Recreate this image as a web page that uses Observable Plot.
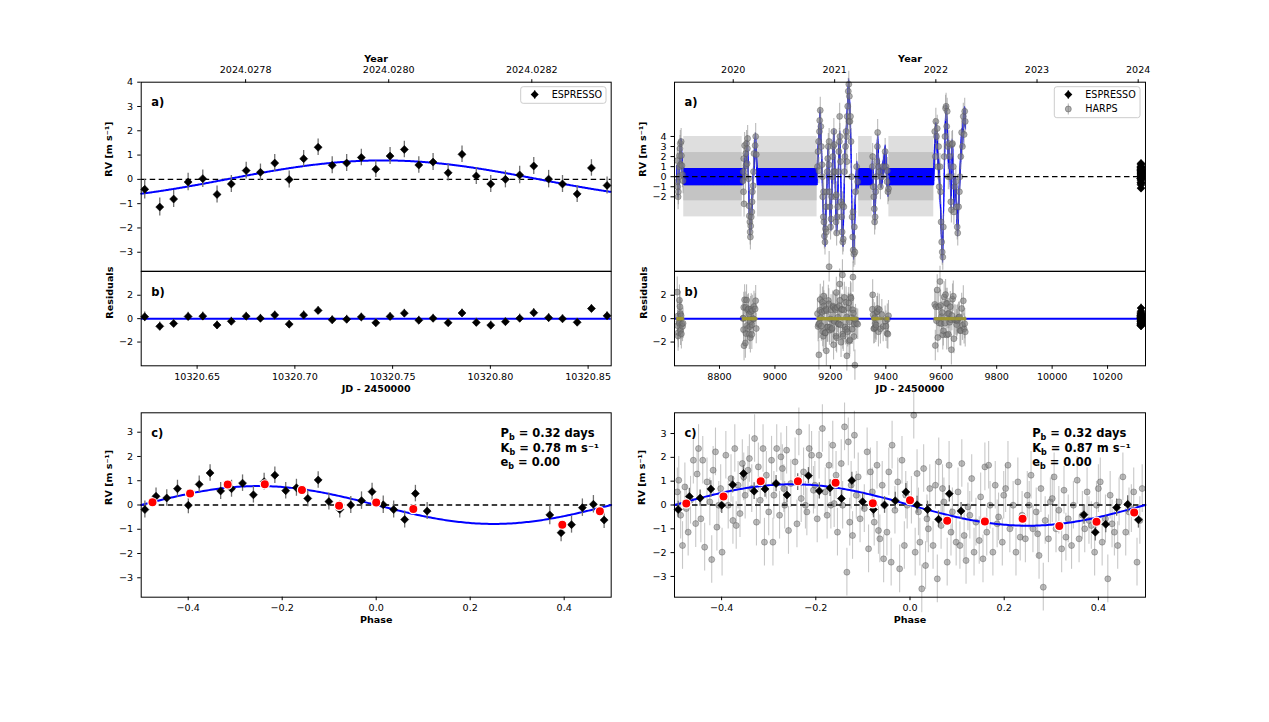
<!DOCTYPE html>
<html>
<head>
<meta charset="utf-8">
<script src="https://cdn.jsdelivr.net/npm/d3@7"></script>
<script src="https://cdn.jsdelivr.net/npm/@observablehq/plot@0.6"></script>
<style>
  html, body { margin: 0; padding: 0; background: #fff; }
  #fig { position: relative; width: 1269px; height: 722px; overflow: hidden; font-family: "DejaVu Sans", sans-serif; }
  #fig svg { position: absolute; overflow: visible; }
</style>
</head>
<body>
<div id="fig"></div>
<script>
// ---------------- ESPRESSO single-night run (JD - 2450000) ----------------
const espTime = [10320.6232, 10320.6309, 10320.6380, 10320.6454, 10320.6529, 10320.6602, 10320.6675,
  10320.6751, 10320.6824, 10320.6897, 10320.6971, 10320.7045, 10320.7119, 10320.7191, 10320.7265,
  10320.7340, 10320.7414, 10320.7487, 10320.7560, 10320.7634, 10320.7707, 10320.7784, 10320.7855,
  10320.7928, 10320.8002, 10320.8077, 10320.8150, 10320.8222, 10320.8298, 10320.8369, 10320.8444,
  10320.8517, 10320.8597];
const espRV = [-0.41, -1.14, -0.81, -0.11, 0.03, -0.62, -0.19, 0.36, 0.29, 0.67, -0.01, 0.85, 1.32,
  0.58, 0.67, 0.90, 0.42, 0.96, 1.23, 0.59, 0.71, 0.27, 1.03, 0.14, -0.19, 0.00, 0.18, 0.55, 0.01,
  -0.19, -0.60, 0.47, -0.25];
const espErr = [0.40, 0.37, 0.35, 0.36, 0.36, 0.35, 0.35, 0.34, 0.34, 0.35, 0.35, 0.34, 0.34, 0.35,
  0.35, 0.34, 0.34, 0.35, 0.34, 0.34, 0.35, 0.34, 0.34, 0.35, 0.35, 0.35, 0.36, 0.35, 0.36, 0.35,
  0.35, 0.34, 0.35];

// ---------------- HARPS seasons: [JD - 2450000, RV m/s] ----------------
const harpsObs = [
  [8647.6, 1.6], [8648.7, -0.5], [8649.6, -1.0], [8650.7, -2.0], [8651.6, -1.5], [8653.6, 0.0],
  [8654.5, 1.0], [8655.6, 2.1], [8657.5, 2.8], [8658.6, 3.3], [8659.5, 1.2], [8661.6, 3.5],
  [8662.5, 2.1], [8664.5, 1.1], [8666.6, 0.2], [8668.5, -0.4],
  [8884.8, -0.4], [8885.6, 0.5], [8886.7, -1.5], [8887.5, 1.8], [8888.6, -2.7], [8890.6, 3.1],
  [8893.5, 0.0], [8894.6, 2.3], [8895.5, 1.1], [8897.6, 3.3], [8899.5, 1.3], [8900.6, 2.8],
  [8901.5, 3.8], [8904.6, -0.2], [8906.5, -2.9], [8907.6, -3.9], [8909.5, -4.5], [8910.6, -5.5],
  [8911.5, -6.0], [8912.6, -4.9], [8914.5, -4.0], [8916.6, -3.5], [8917.5, -2.5], [8918.6, -1.5],
  [8921.5, -0.9], [8922.6, 0.5], [8924.5, 2.3], [8928.6, 3.1], [8930.5, 4.0], [8932.6, 2.2],
  [9153.5, 1.0], [9155.6, 2.5], [9157.5, 3.5], [9158.6, 0.6], [9160.5, 4.5], [9161.6, 5.6],
  [9163.5, 6.6], [9165.6, 5.0], [9167.5, 3.0], [9169.6, 1.2], [9171.5, 0.0], [9172.6, -2.0],
  [9174.5, -4.0], [9175.5, -1.5], [9176.6, -4.5], [9178.5, -5.9], [9180.6, -6.5], [9182.5, -5.2],
  [9184.6, -3.0], [9185.5, -5.5], [9186.5, -1.5], [9188.6, 0.5], [9190.5, 1.8], [9192.6, 3.0],
  [9194.5, 1.2], [9195.5, 3.5], [9196.6, -1.5], [9198.5, -3.0], [9200.6, -5.0], [9202.5, -4.2],
  [9204.6, -2.0], [9206.5, 0.0], [9208.6, 2.0], [9210.5, 3.0], [9211.5, 0.5], [9212.6, 4.5],
  [9214.5, 3.2], [9216.6, 0.5], [9218.5, -2.0], [9220.6, -4.5], [9221.5, -1.8], [9222.5, -5.6],
  [9224.6, -4.0], [9226.5, -3.0], [9228.6, 0.5], [9230.5, 2.5], [9232.6, 3.5], [9233.5, 6.0],
  [9234.5, 4.0], [9236.6, 1.5], [9238.5, -2.5], [9240.6, -4.0], [9242.5, -5.5], [9243.5, -2.8],
  [9244.6, -6.5], [9246.5, -6.2], [9248.6, -3.0], [9250.5, 0.5], [9252.6, 2.0], [9254.5, 3.0],
  [9256.6, 4.5], [9258.5, 4.0], [9259.5, 1.5], [9260.6, 6.0], [9262.5, 7.0], [9264.6, 8.5],
  [9266.5, 9.2], [9267.5, 5.5], [9268.6, 8.0], [9270.5, 5.5], [9272.6, 6.0], [9274.5, 3.5],
  [9276.6, 0.0], [9278.5, -4.0], [9280.6, -6.0], [9281.5, -3.5], [9282.5, -7.3], [9284.6, -7.7],
  [9286.5, -5.0], [9288.5, -7.5], [9290.6, -1.5], [9294.5, 1.0], [9298.6, -0.5],
  [9351.6, 1.0], [9352.6, 2.0], [9354.5, -1.0], [9356.6, -2.0], [9358.5, -3.2], [9359.6, -4.5],
  [9361.5, -4.0], [9363.6, -1.5], [9365.5, 0.0], [9367.6, 1.5], [9369.5, 3.0], [9370.6, 4.4],
  [9373.5, 1.0], [9376.6, 0.5], [9380.5, -1.0], [9385.6, 0.0], [9390.5, 1.0], [9397.6, 2.5],
  [9400.5, 1.0], [9404.6, -0.5], [9405.5, 0.6], [9407.5, -1.5], [9409.6, -1.2],
  [9576.5, 4.5], [9578.6, 2.0], [9580.5, 5.5], [9582.6, 4.0], [9585.5, 4.8], [9587.6, 1.0],
  [9590.5, 3.0], [9592.6, -1.0], [9595.5, 1.0], [9597.6, -1.5], [9599.5, -4.5], [9601.6, -6.5],
  [9603.5, -7.5], [9605.6, -8.0], [9607.5, -5.0], [9610.6, 2.0], [9613.5, 4.0], [9615.6, 6.8],
  [9617.5, 7.0], [9619.6, 5.0], [9621.5, 6.5], [9623.6, 3.0], [9625.5, 0.0], [9627.6, 3.3],
  [9630.5, 2.0], [9632.6, 0.0], [9634.5, -2.5], [9636.6, -3.3], [9638.5, 3.2], [9640.6, 3.3],
  [9643.5, 1.0], [9645.6, -3.5], [9648.5, -1.0], [9652.6, -0.5], [9655.5, -3.0], [9657.6, -5.0],
  [9659.5, -5.6], [9662.6, -3.0], [9665.5, -1.5], [9667.6, 0.0], [9670.5, 2.0], [9673.6, 4.4],
  [9676.5, 3.0], [9679.6, 6.0], [9682.5, 4.2], [9684.6, 6.5], [9686.5, 5.5]
];
const harpsErr = 1.3;

// stellar-activity (GP) mean curve nodes through the HARPS seasons
const activityNodes = [
  [8645, 0], [8647, 0.4], [8649, -0.6], [8651, -1.3], [8653, -0.6], [8655, 0.9], [8657, 2.2],
  [8660, 3.0], [8662, 2.8], [8665, 1.2], [8668, 0.1], [8671, 0],
  [8882, 0], [8885, 0.0], [8888, 0.2], [8891, 1.4], [8895, 1.6], [8898, 2.2], [8901, 2.9],
  [8904, 0.5], [8907, -3.0], [8911, -5.2], [8914, -4.2], [8917, -2.8], [8920, -1.2], [8923, 0.5],
  [8926, 2.2], [8930, 3.6], [8933, 2.0], [8936, 0],
  [9152, 0], [9154, 1.5], [9157, 3.2], [9160, 4.6], [9163, 5.9], [9166, 4.3], [9169, 1.6],
  [9172, -1.2], [9175, -3.8], [9178, -5.6], [9181, -6.2], [9184, -3.5], [9187, -0.9], [9190, 1.5],
  [9193, 2.4], [9196, -0.8], [9199, -3.6], [9202, -4.6], [9205, -1.5], [9208, 1.4], [9211, 3.2],
  [9213, 4.0], [9216, 1.2], [9219, -2.5], [9222, -5.0], [9225, -4.0], [9228, -0.5], [9231, 2.6],
  [9234, 3.8], [9237, 0.8], [9240, -3.5], [9243, -5.8], [9246, -6.2], [9249, -2.4], [9252, 1.5],
  [9255, 3.4], [9258, 4.4], [9261, 6.3], [9264, 8.2], [9266, 9.0], [9269, 7.2], [9272, 5.7],
  [9275, 2.0], [9278, -3.5], [9281, -6.3], [9284, -7.5], [9287, -5.0], [9291, -1.3], [9295, 0.8],
  [9299, -0.4], [9302, 0],
  [9350, 0], [9352, 1.2], [9355, -0.8], [9358, -3.0], [9360, -4.0], [9363, -2.0], [9366, 0.4],
  [9369, 2.8], [9371, 3.4], [9374, 1.2], [9378, 0.2], [9383, -0.3], [9388, 0.4], [9393, 1.2],
  [9398, 2.4], [9401, 1.4], [9404, -0.2], [9406, 0.2], [9408, -1.2], [9410, -1.0], [9411, 0],
  [9573, 0], [9576, 3.0], [9580, 4.6], [9583, 4.4], [9587, 2.0], [9591, 1.0], [9594, -0.5],
  [9597, -2.5], [9600, -5.2], [9603, -7.2], [9605, -7.8], [9608, -4.0], [9611, 0.5], [9614, 4.5],
  [9617, 6.4], [9620, 5.5], [9623, 3.8], [9626, 1.5], [9629, 2.6], [9633, -0.5], [9636, -2.6],
  [9639, 3.0], [9642, 2.0], [9645, -2.5], [9648, -1.0], [9652, -0.8], [9656, -3.5], [9659, -5.2],
  [9662, -3.2], [9666, -0.8], [9670, 1.8], [9673, 4.0], [9677, 3.6], [9680, 5.5], [9684, 6.2],
  [9688, 5.5]
];
const modelStart = 8646, modelEnd = 9688;

// gaps between HARPS seasons, where the activity model relaxes to its prior
const gapStart = [8671, 8937, 9302, 9411];
const gapEnd = [8882, 9152, 9351, 9573];
const priorOuter = 4.0, priorInner = 2.4;

// HARPS with activity removed, folded on the orbit: [phase, RV m/s]
const harpsFolded = [
  [-0.491, 1.04], [-0.478, 0.76], [-0.466, 0.20], [-0.487, -0.43], [-0.455, -0.78], [-0.471, -1.14],
  [-0.483, -1.70], [-0.460, 1.88], [-0.449, 2.37], [-0.494, 0.55], [-0.475, -0.15], [-0.452, 1.30],
  [-0.440, 1.88], [-0.418, 1.46], [-0.431, 0.97], [-0.402, 0.69], [-0.425, 0.13], [-0.444, -0.58],
  [-0.410, -0.93], [-0.436, -1.77], [-0.399, -1.98], [-0.421, -2.29], [-0.413, 2.23], [-0.406, -0.01],
  [-0.372, 2.37], [-0.391, 2.09], [-0.356, 1.74], [-0.380, 1.11], [-0.365, 0.83], [-0.350, 0.41],
  [-0.386, -0.01], [-0.361, -0.36], [-0.376, -0.65], [-0.369, -0.86], [-0.353, 1.18],
  [-0.330, 2.79], [-0.312, 2.37], [-0.341, 1.95], [-0.322, 1.60], [-0.305, 1.25], [-0.336, 0.69],
  [-0.318, 0.20], [-0.300, -0.29], [-0.326, -0.72], [-0.309, -1.56], [-0.344, 1.46],
  [-0.283, 2.37], [-0.262, 2.30], [-0.294, 1.88], [-0.271, 1.53], [-0.253, 0.90], [-0.289, 0.41],
  [-0.266, -0.01], [-0.277, -0.43], [-0.258, -1.07], [-0.291, -1.56], [-0.274, 2.02], [-0.268, 0.69],
  [-0.236, 3.07], [-0.214, 2.37], [-0.244, 1.81], [-0.226, 1.39], [-0.205, 0.62], [-0.231, 0.27],
  [-0.219, -0.29], [-0.240, -0.79], [-0.209, 2.09], [-0.222, -0.01], [-0.202, 0.83],
  [-0.186, 3.21], [-0.164, 2.51], [-0.193, 2.09], [-0.172, 1.67], [-0.157, 1.25], [-0.180, 0.55],
  [-0.168, -0.01], [-0.197, -0.58], [-0.154, -1.14], [-0.176, -0.43], [-0.161, 0.06],
  [-0.139, 3.28], [-0.118, 2.93], [-0.131, 2.65], [-0.146, 1.74], [-0.110, 1.18], [-0.125, 0.83],
  [-0.143, -0.01], [-0.106, -0.58], [-0.122, -1.28], [-0.134, -2.82], [-0.114, 0.41], [-0.128, -0.72],
  [-0.091, 2.23], [-0.070, 1.67], [-0.084, 1.39], [-0.059, 0.83], [-0.097, -0.15], [-0.076, -0.72],
  [-0.064, -1.42], [-0.088, -1.84], [-0.056, -2.26], [-0.080, 0.55], [-0.067, -1.07],
  [-0.038, 2.51], [-0.017, 1.88], [-0.045, 1.39], [-0.026, 0.97], [-0.009, 0.41], [-0.032, -0.22],
  [-0.049, -1.14], [-0.012, -1.70], [-0.040, -2.40], [-0.022, -2.68], [-0.006, -0.01],
  [0.008, 3.77], [0.029, 1.53], [0.015, 1.32], [0.042, 0.69], [0.003, 0.20], [0.036, -0.58],
  [0.021, -1.56], [0.011, -1.98], [0.033, -2.54], [0.025, -3.52], [0.039, -1.00], [0.018, -0.29],
  [0.061, 1.81], [0.083, 1.67], [0.054, 0.83], [0.072, 0.13], [0.090, -0.29], [0.066, -0.86],
  [0.049, -1.70], [0.079, -2.40], [0.058, -3.10], [0.087, -1.14], [0.069, 0.69],
  [0.110, 1.74], [0.131, 1.11], [0.102, 0.55], [0.123, -0.08], [0.140, -0.72], [0.115, -1.28],
  [0.098, -1.56], [0.136, -1.98], [0.119, -2.33], [0.106, -1.70], [0.127, -0.43],
  [0.159, 1.60], [0.181, 0.83], [0.150, 0.34], [0.170, -0.01], [0.188, -0.50], [0.163, -1.14],
  [0.147, -1.49], [0.176, -1.98], [0.155, -2.26], [0.167, 1.67], [0.185, -0.79],
  [0.208, 1.67], [0.229, 0.97], [0.199, 0.41], [0.219, -0.01], [0.238, -0.43], [0.212, -1.00],
  [0.196, -1.56], [0.225, -1.98], [0.203, 0.69], [0.234, -1.35],
  [0.257, 1.25], [0.278, 0.69], [0.249, 0.41], [0.268, -0.29], [0.287, -0.65], [0.261, -1.00],
  [0.245, -1.42], [0.274, -2.12], [0.283, -3.45], [0.253, -0.01], [0.271, -1.21],
  [0.306, 1.18], [0.327, 0.62], [0.298, 0.13], [0.316, -0.22], [0.336, -0.58], [0.310, -1.00],
  [0.294, -1.42], [0.322, -1.84], [0.302, 0.27], [0.331, -1.35],
  [0.355, 1.04], [0.376, 0.55], [0.347, -0.01], [0.366, -0.43], [0.385, -0.86], [0.359, -1.42],
  [0.343, -1.70], [0.371, -1.00], [0.380, -0.65],
  [0.404, 0.97], [0.425, 0.41], [0.396, -0.01], [0.415, -0.58], [0.434, -1.14], [0.408, -1.56],
  [0.392, -1.98], [0.420, -3.10], [0.429, -0.79], [0.400, 0.69],
  [0.452, 1.18], [0.475, 0.55], [0.444, 0.13], [0.465, -0.29], [0.488, -0.65], [0.458, -1.14],
  [0.441, -1.70], [0.482, -2.40], [0.470, -0.15], [0.493, 0.69]
];
const harpsFoldedErr = 1.0;

// phase-binned RVs
const binPhaseL = [-0.476, -0.396, -0.316, -0.237, -0.158, -0.079, 0.000, 0.079, 0.396, 0.476];
const binRVL = [0.11, 0.47, 0.84, 0.85, 0.62, -0.03, 0.10, -0.17, -0.81, -0.26];
const binPhaseR = [-0.475, -0.396, -0.317, -0.238, -0.158, -0.079, 0.000, 0.079, 0.159, 0.239, 0.317, 0.396, 0.476];
const binRVR = [0.06, 0.36, 1.00, 1.00, 0.93, 0.07, 0.20, -0.66, -0.69, -0.58, -0.88, -0.70, -0.32];

// orbital solution of planet b
const P = 0.32, T0 = 10320.825, K_esp = 0.78, K_all = 0.87, ecc = 0.00;

// tick values
const yearTicksL = [2024.0278, 2024.0280, 2024.0282];
const yearTicksR = [2020, 2021, 2022, 2023, 2024];
const jdTicksL = [10320.65, 10320.70, 10320.75, 10320.80, 10320.85];
const jdTicksR = [8800, 9000, 9200, 9400, 9600, 9800, 10000, 10200];

// ---------------- helpers ----------------
const kepler = (t, K) => -K * Math.sin(2 * Math.PI * (t - T0) / P);
const phaseOf = t => { const f = (t - T0) / P; return f - Math.round(f); };
const activity = d3.scaleLinear().domain(activityNodes.map(d => d[0])).range(activityNodes.map(d => d[1])).clamp(true);
// decimal year -> JD - 2450000 (days counted within each calendar year)
function jdOf(year) {
  const y0 = Math.floor(year + 1e-9);
  const a = Date.UTC(y0, 0, 1) / 86400000, b = Date.UTC(y0 + 1, 0, 1) / 86400000;
  return a + 2440587.5 - 2450000 + (year - y0) * (b - a);
}

const esp = espTime.map((t, i) => ({t, rv: espRV[i], err: espErr[i], ph: phaseOf(t)}));
const harps = harpsObs.map(([t, rv]) => ({t, rv, res: rv - activity(t) - kepler(t, K_all)}));
const folded = harpsFolded.map(([ph, rv]) => ({ph, rv}));
const gaps = gapStart.map((s, i) => ({x1: s, x2: gapEnd[i]}));
const binsL = binPhaseL.map((p, i) => ({ph: p, rv: binRVL[i]}));
const binsR = binPhaseR.map((p, i) => ({ph: p, rv: binRVR[i]}));

const domL = [10320.6214, 10320.8618];
const domR = [8637.7, 10336.8];
const tModelL = d3.range(domL[0], domL[1] + 1e-4, 0.0005);
const tModelR = d3.range(modelStart, modelEnd, 0.04);
const phModel = d3.range(-0.5, 0.5001, 0.004);

// ---------------- layout ----------------
const fig = document.getElementById("fig");
const baseStyle = {fontFamily: "'DejaVu Sans', sans-serif", fontSize: "9.6px", color: "black", background: "transparent", overflow: "visible"};
const colL = {left: 60, ml: 80.7, fw: 470};
const colR = {left: 594, ml: 80, fw: 471};
const rowA = {top: 30, mt: 51.7, fh: 189, mb: 0};
const rowB = {top: 270.7, mt: 0, fh: 94.3, mb: 40};
const rowC = {top: 380, mt: 32.3, fh: 184.4, mb: 40};

function panel(col, row, x, y, marks) {
  const svg = Plot.plot({
    width: col.ml + col.fw + 20, height: row.mt + row.fh + row.mb,
    marginLeft: col.ml, marginRight: 20, marginTop: row.mt, marginBottom: row.mb,
    style: baseStyle,
    x: {...x, axis: null}, y: {...y, axis: null},
    marks
  });
  svg.style.left = col.left + "px";
  svg.style.top = row.top + "px";
  fig.appendChild(svg);
  return svg;
}

const bold = {fontWeight: "bold", fontSize: 9.6};
const frame = () => Plot.frame({stroke: "black", strokeWidth: 1});
const zeroDash = () => Plot.ruleY([0], {stroke: "black", strokeWidth: 1.3, strokeDasharray: "5.5,3.5"});
const yAx = (ticks, fmt = "d") => Plot.axisY({ticks, tickFormat: fmt, tickSize: 3.5, tickPadding: 4.5, label: null});
const xAx = (ticks, fmt) => Plot.axisX({ticks, tickFormat: fmt, tickSize: 3.5, tickPadding: 3.5, label: null});
const yearAx = (years, fmt) => {
  const lab = new Map(years.map(y => [jdOf(y), fmt(y)]));
  return Plot.axisX(years.map(jdOf), {anchor: "top", tickFormat: d => lab.get(d), tickSize: 3.5, tickPadding: 5.5, label: null});
};
const tag = s => Plot.text([s], {frameAnchor: "top-left", dx: 10, dy: 16, textAnchor: "start", fontWeight: "bold", fontSize: 11.5});
const yLabel = (s, dx) => Plot.text([s], {frameAnchor: "left", dx, rotate: -90, ...bold});
const xLabel = (s, dy) => Plot.text([s], {frameAnchor: "bottom", dy, ...bold});
const topLabel = s => Plot.text([s], {frameAnchor: "top", dy: -27.5, ...bold});
const stats = (lines, dx) => lines.map((s, i) => Plot.text([s], {frameAnchor: "top-right", dx, dy: 16.5 + 14.5 * i, textAnchor: "start", fontWeight: "bold", fontSize: 11.5}));

const espBars = (xk, yk) => Plot.ruleX(esp, {x: xk, y1: d => d[yk] - d.err, y2: d => d[yk] + d.err, stroke: "#707070", strokeWidth: 1.3});
const espDots = (xk, yk) => Plot.dot(esp, {x: xk, y: yk, symbol: "diamond2", r: 3.6, fill: "black", stroke: "black", strokeWidth: 0.6});
const harpsStyle = {r: 3, fill: "#7a7a7a", fillOpacity: 0.6, stroke: "#555", strokeOpacity: 0.5, strokeWidth: 0.8};

// residuals of ESPRESSO against each solution
esp.forEach(d => { d.resL = d.rv - kepler(d.t, K_esp); d.resR = d.rv - kepler(d.t, K_all); });

// ---------- a) left: ESPRESSO time series ----------
panel(colL, rowA, {domain: domL}, {domain: [-3.78, 4]}, [
  zeroDash(),
  Plot.line(tModelL, {x: d => d, y: d => kepler(d, K_esp), stroke: "blue", strokeWidth: 2}),
  espBars("t", "rv"), espDots("t", "rv"),
  frame(), yAx([-3, -2, -1, 0, 1, 2, 3, 4]),
  yearAx(yearTicksL, y => y.toFixed(4)), topLabel("Year"),
  yLabel("RV [m s⁻¹]", -32.5), tag("a)")
]);

// ---------- b) left: residuals ----------
panel(colL, rowB, {domain: domL}, {domain: [-4.03, 4.03]}, [
  Plot.ruleY([0], {stroke: "blue", strokeWidth: 2}),
  Plot.ruleX(esp, {x: "t", y1: d => d.resL - d.err, y2: d => d.resL + d.err, stroke: "#707070", strokeWidth: 1.3}),
  espDots("t", "resL"),
  frame(), yAx([-2, 0, 2]), xAx(jdTicksL, ".2f"),
  xLabel("JD - 2450000", 26.7), yLabel("Residuals", -31), tag("b)")
]);

// ---------- c) left: phase fold ----------
const cL = panel(colL, rowC, {domain: [-0.5, 0.5]}, {domain: [-3.8, 3.8]}, [
  zeroDash(),
  Plot.line(phModel, {x: d => d, y: d => -K_esp * Math.sin(2 * Math.PI * d), stroke: "blue", strokeWidth: 2}),
  espBars("ph", "rv"), espDots("ph", "rv"),
  Plot.dot(binsL, {x: "ph", y: "rv", r: 4.6, fill: "red", stroke: "white", strokeWidth: 1.2}),
  frame(), yAx([-3, -2, -1, 0, 1, 2, 3]), xAx([-0.4, -0.2, 0, 0.2, 0.4], ".1f"),
  xLabel("Phase", 25.6), yLabel("RV [m s⁻¹]", -32.5), tag("c)"),
  ...stats([`P_b = ${P.toFixed(2)} days`, `K_b = ${K_esp.toFixed(2)} m s⁻¹`, `e_b = ${ecc.toFixed(2)}`], -110.7)
]);

// ---------- a) right: HARPS + ESPRESSO time series ----------
panel(colR, rowA, {domain: domR}, {domain: [-9.4, 9.4]}, [
  Plot.rect(gaps, {x1: "x1", x2: "x2", y1: -priorOuter, y2: priorOuter, fill: "#dedede"}),
  Plot.rect(gaps, {x1: "x1", x2: "x2", y1: -priorInner, y2: priorInner, fill: "#c4c4c4"}),
  Plot.line(tModelR, {x: d => d, y: d => activity(d) + kepler(d, K_all), stroke: "blue", strokeWidth: 0.6, strokeOpacity: 0.6}),
  Plot.ruleX(harps, {x: "t", y1: d => d.rv - harpsErr, y2: d => d.rv + harpsErr, stroke: "#8c8c8c", strokeOpacity: 0.6, strokeWidth: 1.1}),
  Plot.dot(harps, {x: "t", y: "rv", ...harpsStyle}),
  espBars("t", "rv"), espDots("t", "rv"),
  zeroDash(),
  frame(), yAx([-2, -1, 0, 1, 2, 3, 4]),
  yearAx(yearTicksR, y => String(y)), topLabel("Year"),
  yLabel("RV [m s⁻¹]", -31.3), tag("a)")
]);

// ---------- b) right: residuals ----------
panel(colR, rowB, {domain: domR}, {domain: [-4.03, 4.03]}, [
  Plot.ruleX(harps, {x: "t", y1: d => d.res - harpsErr, y2: d => d.res + harpsErr, stroke: "#8c8c8c", strokeOpacity: 0.6, strokeWidth: 1.1}),
  Plot.dot(harps, {x: "t", y: "res", ...harpsStyle}),
  Plot.ruleY([0], {stroke: "blue", strokeWidth: 2}),
  Plot.dot(harps, {x: "t", y: 0, r: 1.6, fill: "#a09a30", fillOpacity: 0.6}),
  Plot.ruleX(esp, {x: "t", y1: d => d.resR - d.err, y2: d => d.resR + d.err, stroke: "#707070", strokeWidth: 1.3}),
  espDots("t", "resR"),
  frame(), yAx([-2, 0, 2]), xAx(jdTicksR, "d"),
  xLabel("JD - 2450000", 26.7), yLabel("Residuals", -31), tag("b)")
]);

// ---------- c) right: phase fold of all data ----------
const cR = panel(colR, rowC, {domain: [-0.5, 0.5]}, {domain: [-3.87, 3.87]}, [
  Plot.ruleX(folded, {x: "ph", y1: d => d.rv - harpsFoldedErr, y2: d => d.rv + harpsFoldedErr, stroke: "#9a9a9a", strokeOpacity: 0.55, strokeWidth: 1.1}),
  Plot.dot(folded, {x: "ph", y: "rv", ...harpsStyle, fillOpacity: 0.5}),
  zeroDash(),
  Plot.line(phModel, {x: d => d, y: d => -K_all * Math.sin(2 * Math.PI * d), stroke: "blue", strokeWidth: 2}),
  espBars("ph", "rv"), espDots("ph", "rv"),
  Plot.dot(binsR, {x: "ph", y: "rv", r: 4.6, fill: "red", stroke: "white", strokeWidth: 1.2}),
  frame(), yAx([-3, -2, -1, 0, 1, 2, 3]), xAx([-0.4, -0.2, 0, 0.2, 0.4], ".1f"),
  xLabel("Phase", 25.6), yLabel("RV [m s⁻¹]", -32.3), tag("c)"),
  ...stats([`P_b = ${P.toFixed(2)} days`, `K_b = ${K_all.toFixed(2)} m s⁻¹`, `e_b = ${ecc.toFixed(2)}`], -113.3)
]);

// subscript "b" in the orbital parameters
for (const svg of [cL, cR]) {
  d3.select(svg).selectAll("text").each(function () {
    const s = this.textContent;
    if (!s.includes("_b")) return;
    const [head, tail] = s.split("_b");
    const t = d3.select(this).text(null);
    t.append("tspan").text(head);
    t.append("tspan").attr("font-size", "0.7em").attr("dy", "2.6").text("b");
    t.append("tspan").attr("dy", "-2.6").text(tail);
  });
}

// ---------------- legends ----------------
const leg = d3.select(fig).append("svg").attr("width", 1269).attr("height", 722)
  .style("left", "0px").style("top", "0px").style("pointer-events", "none")
  .style("font-family", "'DejaVu Sans', sans-serif").style("font-size", "9.6px");
function legendBox(x, y, w, h, items) {
  const g = leg.append("g").attr("transform", `translate(${x},${y})`);
  g.append("rect").attr("width", w).attr("height", h).attr("rx", 2.5)
    .attr("fill", "white").attr("fill-opacity", 0.8).attr("stroke", "#cccccc");
  items.forEach((it, i) => {
    const cy = 7.8 + 14.5 * i;
    if (it.kind === "esp") {
      g.append("line").attr("x1", 14).attr("x2", 14).attr("y1", cy - 4.5).attr("y2", cy + 4.5).attr("stroke", "#707070").attr("stroke-width", 1.3);
      g.append("path").attr("transform", `translate(14,${cy})`).attr("d", d3.symbol(d3.symbolDiamond2, Math.PI * 3.6 * 3.6)()).attr("fill", "black");
    } else {
      g.append("line").attr("x1", 14).attr("x2", 14).attr("y1", cy - 5.5).attr("y2", cy + 5.5).attr("stroke", "#8c8c8c").attr("stroke-opacity", 0.6).attr("stroke-width", 1.1);
      g.append("circle").attr("cx", 14).attr("cy", cy).attr("r", 3).attr("fill", "#7a7a7a").attr("fill-opacity", 0.6).attr("stroke", "#555").attr("stroke-opacity", 0.5);
    }
    g.append("text").attr("x", 31).attr("y", cy).attr("dy", "0.35em").text(it.label);
  });
}
legendBox(520.7, 86.7, 85.3, 16.6, [{kind: "esp", label: "ESPRESSO"}]);
legendBox(1054.3, 86.7, 85.7, 31, [{kind: "esp", label: "ESPRESSO"}, {kind: "harps", label: "HARPS"}]);
</script>
</body>
</html>
